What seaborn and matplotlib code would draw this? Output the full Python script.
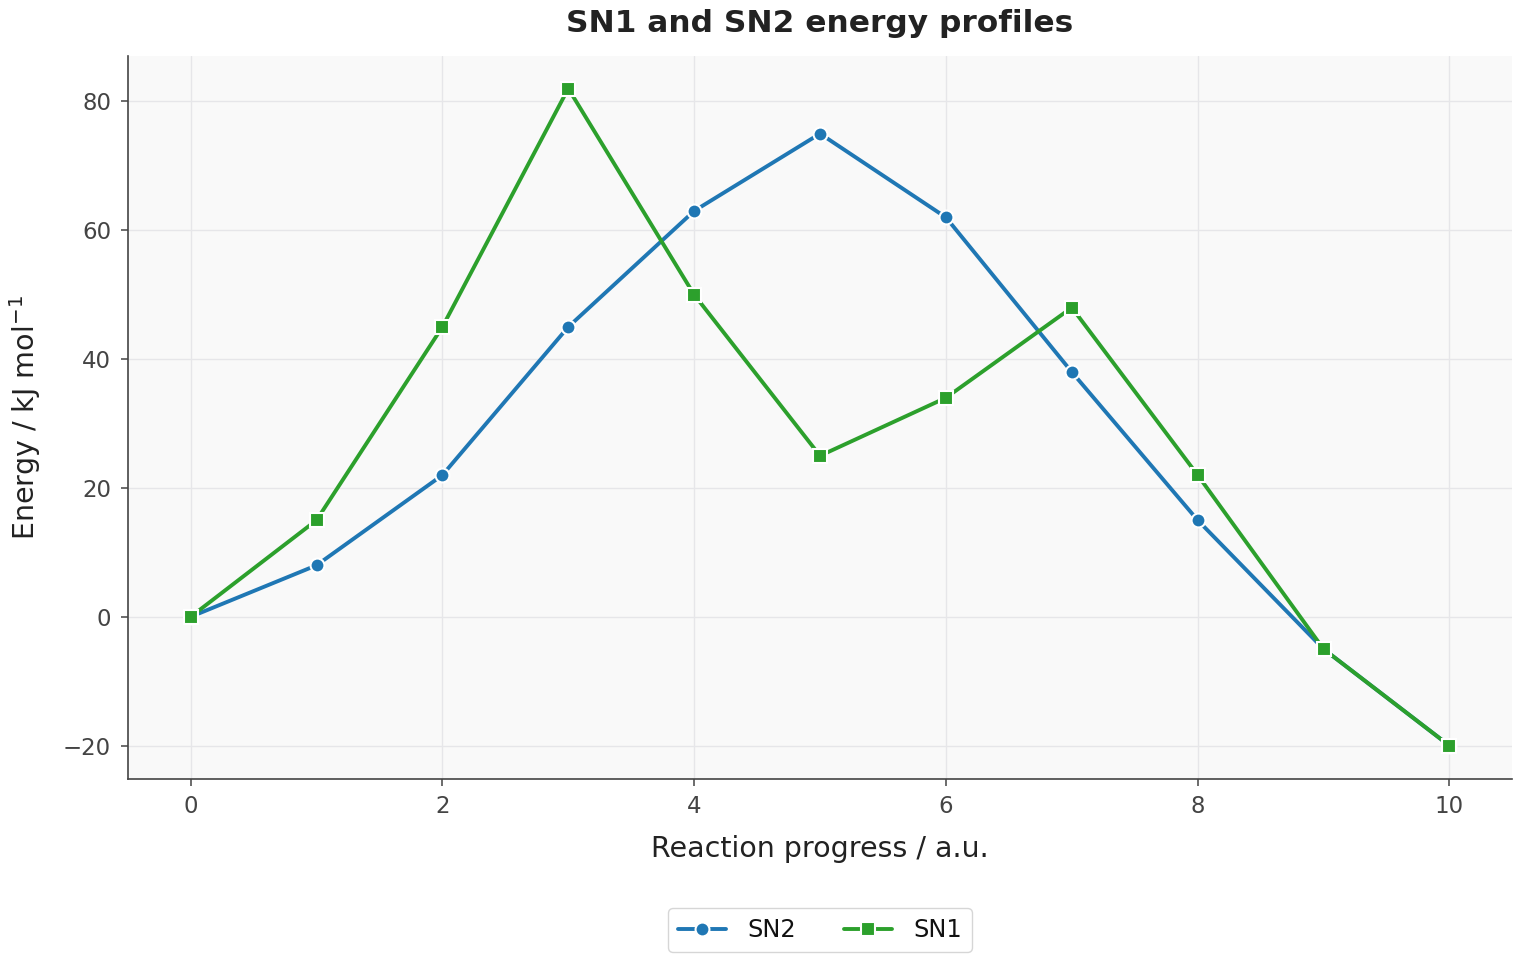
import matplotlib
matplotlib.use("Agg")
import matplotlib.pyplot as plt
import seaborn as sns
import pandas as pd

progress = [0, 1, 2, 3, 4, 5, 6, 7, 8, 9, 10]
sn2_energy = [0, 8, 22, 45, 63, 75, 62, 38, 15, -5, -20]
sn1_energy = [0, 15, 45, 82, 50, 25, 34, 48, 22, -5, -20]
series_names = ["SN2", "SN1"]

df = pd.concat([
    pd.DataFrame({"x": progress, "y": sn2_energy, "Mechanism": series_names[0]}),
    pd.DataFrame({"x": progress, "y": sn1_energy, "Mechanism": series_names[1]}),
])

sns.set_theme(style="whitegrid")
plt.rcParams['font.family'] = ['DejaVu Sans']

fig, ax = plt.subplots(figsize=(15.2, 9.6), dpi=100)
fig.subplots_adjust(left=0.084, right=0.995, top=0.942, bottom=0.189)
ax.set_facecolor("#f9f9f9")
ax.grid(True, color="#e6e6e9", linewidth=1)

sns.lineplot(data=df, x="x", y="y", hue="Mechanism", style="Mechanism",
             palette=["#1f77b4", "#2ca02c"], markers=["o", "s"], dashes=False,
             linewidth=2.8, markersize=10, markeredgecolor="white", markeredgewidth=1.5,
             ax=ax)

ax.set_title("SN1 and SN2 energy profiles", fontsize=22.5, fontweight="bold", color="#222222", pad=17)
ax.set_xlabel("Reaction progress / a.u.", fontsize=20.5, color="#222222", labelpad=12)
ax.set_ylabel(r"Energy / kJ mol$^{-1}$", fontsize=20.5, color="#222222", labelpad=14)
ax.tick_params(axis="both", labelsize=16.5, colors="#444444", length=5, width=1.1, pad=7,
               left=True, bottom=True)
for s in ["top", "right"]:
    ax.spines[s].set_visible(False)
for s in ["left", "bottom"]:
    ax.spines[s].set_color("#444444")
    ax.spines[s].set_linewidth(1.2)

leg = ax.legend(loc="upper center", bbox_to_anchor=(0.5, -0.163), ncol=2, fontsize=17.3,
                frameon=True, handlelength=2.0, columnspacing=2.0, handletextpad=0.9)
leg.get_frame().set_edgecolor("#cccccc")
for t in leg.get_texts():
    t.set_color("#111111")

fig.savefig("out.png", dpi=100)
